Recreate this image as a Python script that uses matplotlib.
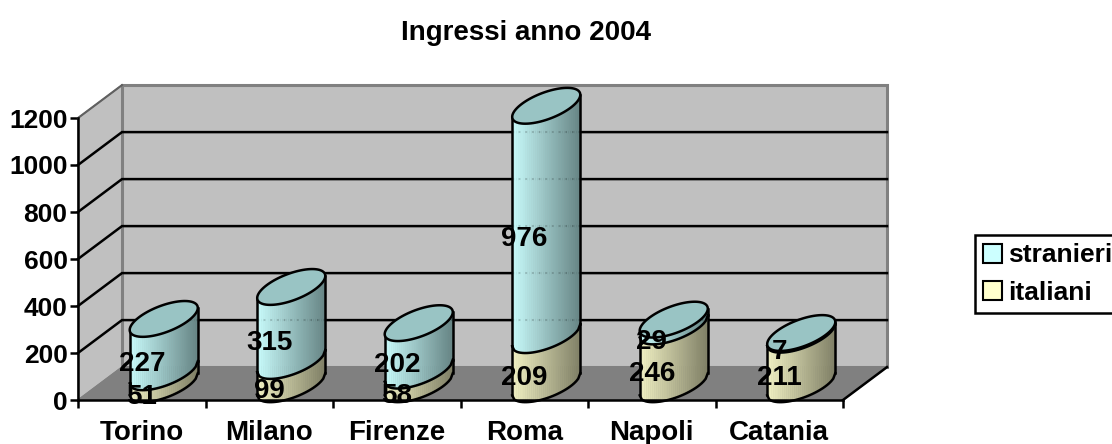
import matplotlib
matplotlib.use("Agg")
import matplotlib.pyplot as plt
from matplotlib.patches import Patch, Polygon
import numpy as np

plt.rcParams["font.family"] = ["Liberation Sans", "DejaVu Sans"]
plt.rcParams["font.weight"] = "bold"
plt.rcParams["font.size"] = 20

cities = ["Torino", "Milano", "Firenze", "Roma", "Napoli", "Catania"]
italiani = [51, 99, 58, 209, 246, 211]
stranieri = [227, 315, 202, 976, 29, 7]
y_ticks = [0, 200, 400, 600, 800, 1000, 1200]

# depth of the fake 3d box, in axis units
depth_x = 0.345
depth_y = 140
radius = 0.267
skew_y = 47
open_y = 60

cyan = ((0.78, 0.98, 0.98), (0.40, 0.52, 0.52))
cyan_top = "#99c4c4"
yellow = ((0.94, 0.94, 0.76), (0.50, 0.50, 0.40))

fig = plt.figure(figsize=(11.12, 4.44), dpi=100)
ax = fig.add_axes([78 / 1112, 44 / 444, 765 / 1112, 282 / 444])
ax.set_xlim(0, 6)
ax.set_ylim(0, 1200)
ax.set_facecolor("none")

# walls and floor
ax.add_patch(Polygon([(0, 0), (depth_x, depth_y), (depth_x, 1200 + depth_y), (0, 1200)],
                     fc="#c0c0c0", ec="#808080", lw=1, clip_on=False, zorder=1))
ax.add_patch(Polygon([(depth_x, depth_y), (6 + depth_x, depth_y), (6 + depth_x, 1200 + depth_y), (depth_x, 1200 + depth_y)],
                     fc="#c0c0c0", ec="#808080", lw=2.2, clip_on=False, zorder=1))
ax.add_patch(Polygon([(0, 0), (6, 0), (6 + depth_x, depth_y), (depth_x, depth_y)],
                     fc="#808080", ec="#808080", lw=1, clip_on=False, zorder=2))
ax.plot([6, 6 + depth_x], [0, depth_y], color="black", lw=1.8, clip_on=False, zorder=3)

for v in y_ticks[1:-1]:
    ax.plot([0, depth_x, 6 + depth_x], [v, v + depth_y, v + depth_y],
            color="black", lw=1.8, clip_on=False, zorder=3, solid_joinstyle="miter")
ax.plot([0, depth_x], [1200, 1200 + depth_y], color="#606060", lw=1.5, clip_on=False, zorder=3)


def arc(cx, base, t):
    return cx + radius * np.cos(t), base + skew_y * np.cos(t) + open_y * np.sin(t)


def cylinder(cx, base, height, shades, top_color=None):
    x = np.linspace(cx - radius, cx + radius, 34)
    c = np.clip((x - cx) / radius, -1, 1)
    s = -np.sqrt(1 - c ** 2)
    low = base + skew_y * c + open_y * s
    high = low + height
    for k in range(len(x) - 1):
        f = k / (len(x) - 2)
        col = [a + (b - a) * f for a, b in zip(shades[0], shades[1])]
        ax.fill_between(x[k:k + 2], low[k:k + 2], high[k:k + 2], color=col, lw=0.4,
                        clip_on=False, zorder=5)
    # gridlines show faintly through the bars
    for v in y_ticks[1:-1]:
        g = v + depth_y
        inside = (low < g) & (g < high)
        if inside.any():
            ax.plot(x[inside], [g] * inside.sum(), color="black", alpha=0.2, lw=1.2,
                    ls=(0, (1, 3)), clip_on=False, zorder=5.5)
    ax.plot(x, low, color="black", lw=1.8, clip_on=False, zorder=6)
    ax.plot([x[0], x[0]], [low[0], high[0]], color="black", lw=1.8, clip_on=False, zorder=6)
    ax.plot([x[-1], x[-1]], [low[-1], high[-1]], color="black", lw=1.8, clip_on=False, zorder=6)
    if top_color:
        tx, ty = arc(cx, base + height, np.linspace(0, 2 * np.pi, 120))
        ax.fill(tx, ty, facecolor=top_color, edgecolor="black", lw=1.8, clip_on=False, zorder=6)


def value_label(x, y, value):
    ax.annotate(str(value), (x, y), xytext=(0, -2), textcoords="offset points",
                ha="center", va="center", zorder=8, color="black", annotation_clip=False)


for i, city in enumerate(cities):
    cx = i + 0.5 + depth_x / 2
    base = depth_y / 2 - 3
    cylinder(cx, base, italiani[i], yellow)
    cylinder(cx, base + italiani[i], stranieri[i], cyan, cyan_top)
    value_label(i + 0.5, italiani[i] / 2, italiani[i])
    value_label(i + 0.5, italiani[i] + stranieri[i] / 2, stranieri[i])

for side in ["top", "right"]:
    ax.spines[side].set_visible(False)
for side in ["left", "bottom"]:
    ax.spines[side].set_linewidth(1.8)
    ax.spines[side].set_zorder(7)

ax.set_yticks(y_ticks)
ax.set_xticks(range(7), labels=[""] * 7)
ax.set_xticks(np.arange(6) + 0.5, labels=cities, minor=True)
ax.tick_params(axis="y", length=6, width=1.8, pad=1.5, labelsize=19)
ax.tick_params(axis="x", which="major", length=6, width=1.8)
ax.tick_params(axis="x", which="minor", length=0, pad=14.5)

fig.text(526 / 1112, 1 - 33 / 444, "Ingressi anno 2004", ha="center", va="center")

handles = [Patch(fc="#ccffff", ec="black", lw=1.5, label="stranieri"),
           Patch(fc="#ffffcc", ec="black", lw=1.5, label="italiani")]
leg = fig.legend(handles=handles, loc="center left", bbox_to_anchor=(975 / 1112, 1 - 274 / 444),
                 frameon=True, fancybox=False, edgecolor="black", framealpha=1, borderaxespad=0,
                 handlelength=0.72, handleheight=0.72, handletextpad=0.25, labelspacing=0.5,
                 borderpad=0.3, fontsize=19)
leg.get_frame().set_linewidth(1.8)

plt.savefig("out.png", dpi=100)
